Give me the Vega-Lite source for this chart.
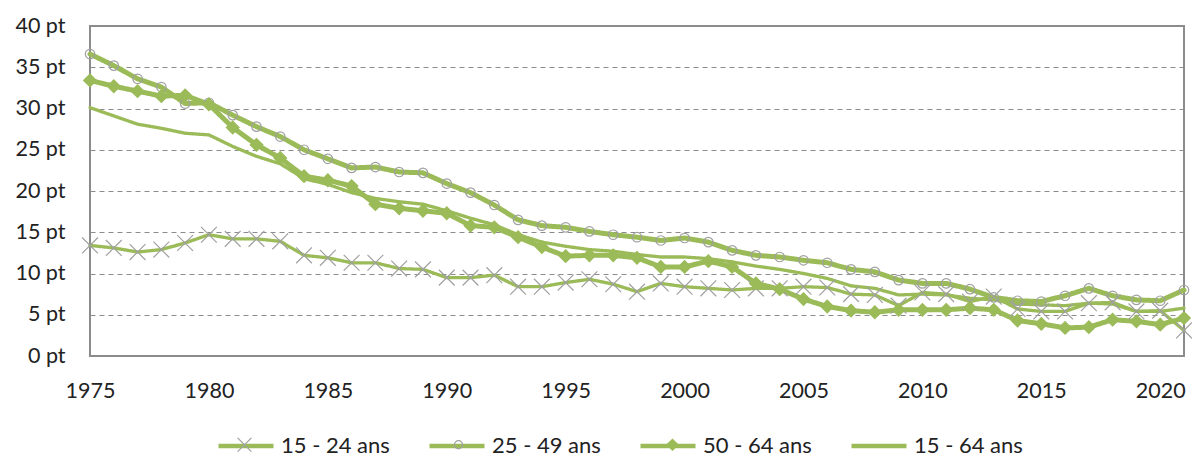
{
  "$schema": "https://vega.github.io/schema/vega-lite/v6.json",
  "width": 1094,
  "height": 330,
  "autosize": {"type": "none"},
  "padding": {"left": 90, "top": 26, "right": 8, "bottom": 104},
  "background": "white",
  "config": {
    "font": "Lato",
    "view": {"stroke": "#8c8c8c", "strokeWidth": 2}
  },
  "data": {
    "values": [
      {"year": 1975, "series": "15 - 24 ans", "v": 13.4}, {"year": 1976, "series": "15 - 24 ans", "v": 13.1}, {"year": 1977, "series": "15 - 24 ans", "v": 12.6}, {"year": 1978, "series": "15 - 24 ans", "v": 12.9}, {"year": 1979, "series": "15 - 24 ans", "v": 13.7}, {"year": 1980, "series": "15 - 24 ans", "v": 14.7}, {"year": 1981, "series": "15 - 24 ans", "v": 14.2}, {"year": 1982, "series": "15 - 24 ans", "v": 14.2}, {"year": 1983, "series": "15 - 24 ans", "v": 13.9}, {"year": 1984, "series": "15 - 24 ans", "v": 12.2}, {"year": 1985, "series": "15 - 24 ans", "v": 11.9}, {"year": 1986, "series": "15 - 24 ans", "v": 11.3}, {"year": 1987, "series": "15 - 24 ans", "v": 11.3}, {"year": 1988, "series": "15 - 24 ans", "v": 10.6}, {"year": 1989, "series": "15 - 24 ans", "v": 10.5}, {"year": 1990, "series": "15 - 24 ans", "v": 9.5}, {"year": 1991, "series": "15 - 24 ans", "v": 9.5}, {"year": 1992, "series": "15 - 24 ans", "v": 9.8}, {"year": 1993, "series": "15 - 24 ans", "v": 8.4}, {"year": 1994, "series": "15 - 24 ans", "v": 8.4}, {"year": 1995, "series": "15 - 24 ans", "v": 8.9}, {"year": 1996, "series": "15 - 24 ans", "v": 9.3}, {"year": 1997, "series": "15 - 24 ans", "v": 8.7}, {"year": 1998, "series": "15 - 24 ans", "v": 7.8}, {"year": 1999, "series": "15 - 24 ans", "v": 8.8}, {"year": 2000, "series": "15 - 24 ans", "v": 8.4}, {"year": 2001, "series": "15 - 24 ans", "v": 8.2}, {"year": 2002, "series": "15 - 24 ans", "v": 8.0}, {"year": 2003, "series": "15 - 24 ans", "v": 8.2}, {"year": 2004, "series": "15 - 24 ans", "v": 8.2}, {"year": 2005, "series": "15 - 24 ans", "v": 8.4}, {"year": 2006, "series": "15 - 24 ans", "v": 8.3}, {"year": 2007, "series": "15 - 24 ans", "v": 7.5}, {"year": 2008, "series": "15 - 24 ans", "v": 7.4}, {"year": 2009, "series": "15 - 24 ans", "v": 6.1}, {"year": 2010, "series": "15 - 24 ans", "v": 7.7}, {"year": 2011, "series": "15 - 24 ans", "v": 7.5}, {"year": 2012, "series": "15 - 24 ans", "v": 6.6}, {"year": 2013, "series": "15 - 24 ans", "v": 7.2}, {"year": 2014, "series": "15 - 24 ans", "v": 5.7}, {"year": 2015, "series": "15 - 24 ans", "v": 5.4}, {"year": 2016, "series": "15 - 24 ans", "v": 5.4}, {"year": 2017, "series": "15 - 24 ans", "v": 6.4}, {"year": 2018, "series": "15 - 24 ans", "v": 6.5}, {"year": 2019, "series": "15 - 24 ans", "v": 5.4}, {"year": 2020, "series": "15 - 24 ans", "v": 5.5}, {"year": 2021, "series": "15 - 24 ans", "v": 3.1},
      {"year": 1975, "series": "25 - 49 ans", "v": 36.6}, {"year": 1976, "series": "25 - 49 ans", "v": 35.2}, {"year": 1977, "series": "25 - 49 ans", "v": 33.6}, {"year": 1978, "series": "25 - 49 ans", "v": 32.6}, {"year": 1979, "series": "25 - 49 ans", "v": 30.6}, {"year": 1980, "series": "25 - 49 ans", "v": 30.7}, {"year": 1981, "series": "25 - 49 ans", "v": 29.2}, {"year": 1982, "series": "25 - 49 ans", "v": 27.8}, {"year": 1983, "series": "25 - 49 ans", "v": 26.6}, {"year": 1984, "series": "25 - 49 ans", "v": 25.0}, {"year": 1985, "series": "25 - 49 ans", "v": 23.9}, {"year": 1986, "series": "25 - 49 ans", "v": 22.8}, {"year": 1987, "series": "25 - 49 ans", "v": 22.9}, {"year": 1988, "series": "25 - 49 ans", "v": 22.3}, {"year": 1989, "series": "25 - 49 ans", "v": 22.2}, {"year": 1990, "series": "25 - 49 ans", "v": 20.9}, {"year": 1991, "series": "25 - 49 ans", "v": 19.8}, {"year": 1992, "series": "25 - 49 ans", "v": 18.3}, {"year": 1993, "series": "25 - 49 ans", "v": 16.5}, {"year": 1994, "series": "25 - 49 ans", "v": 15.8}, {"year": 1995, "series": "25 - 49 ans", "v": 15.6}, {"year": 1996, "series": "25 - 49 ans", "v": 15.1}, {"year": 1997, "series": "25 - 49 ans", "v": 14.7}, {"year": 1998, "series": "25 - 49 ans", "v": 14.4}, {"year": 1999, "series": "25 - 49 ans", "v": 14.0}, {"year": 2000, "series": "25 - 49 ans", "v": 14.3}, {"year": 2001, "series": "25 - 49 ans", "v": 13.8}, {"year": 2002, "series": "25 - 49 ans", "v": 12.8}, {"year": 2003, "series": "25 - 49 ans", "v": 12.2}, {"year": 2004, "series": "25 - 49 ans", "v": 12.0}, {"year": 2005, "series": "25 - 49 ans", "v": 11.6}, {"year": 2006, "series": "25 - 49 ans", "v": 11.3}, {"year": 2007, "series": "25 - 49 ans", "v": 10.5}, {"year": 2008, "series": "25 - 49 ans", "v": 10.2}, {"year": 2009, "series": "25 - 49 ans", "v": 9.2}, {"year": 2010, "series": "25 - 49 ans", "v": 8.8}, {"year": 2011, "series": "25 - 49 ans", "v": 8.8}, {"year": 2012, "series": "25 - 49 ans", "v": 8.1}, {"year": 2013, "series": "25 - 49 ans", "v": 7.1}, {"year": 2014, "series": "25 - 49 ans", "v": 6.7}, {"year": 2015, "series": "25 - 49 ans", "v": 6.6}, {"year": 2016, "series": "25 - 49 ans", "v": 7.3}, {"year": 2017, "series": "25 - 49 ans", "v": 8.2}, {"year": 2018, "series": "25 - 49 ans", "v": 7.3}, {"year": 2019, "series": "25 - 49 ans", "v": 6.8}, {"year": 2020, "series": "25 - 49 ans", "v": 6.7}, {"year": 2021, "series": "25 - 49 ans", "v": 8.0},
      {"year": 1975, "series": "50 - 64 ans", "v": 33.4}, {"year": 1976, "series": "50 - 64 ans", "v": 32.7}, {"year": 1977, "series": "50 - 64 ans", "v": 32.1}, {"year": 1978, "series": "50 - 64 ans", "v": 31.5}, {"year": 1979, "series": "50 - 64 ans", "v": 31.6}, {"year": 1980, "series": "50 - 64 ans", "v": 30.5}, {"year": 1981, "series": "50 - 64 ans", "v": 27.7}, {"year": 1982, "series": "50 - 64 ans", "v": 25.6}, {"year": 1983, "series": "50 - 64 ans", "v": 24.0}, {"year": 1984, "series": "50 - 64 ans", "v": 21.8}, {"year": 1985, "series": "50 - 64 ans", "v": 21.3}, {"year": 1986, "series": "50 - 64 ans", "v": 20.6}, {"year": 1987, "series": "50 - 64 ans", "v": 18.4}, {"year": 1988, "series": "50 - 64 ans", "v": 17.9}, {"year": 1989, "series": "50 - 64 ans", "v": 17.6}, {"year": 1990, "series": "50 - 64 ans", "v": 17.3}, {"year": 1991, "series": "50 - 64 ans", "v": 15.8}, {"year": 1992, "series": "50 - 64 ans", "v": 15.6}, {"year": 1993, "series": "50 - 64 ans", "v": 14.4}, {"year": 1994, "series": "50 - 64 ans", "v": 13.2}, {"year": 1995, "series": "50 - 64 ans", "v": 12.1}, {"year": 1996, "series": "50 - 64 ans", "v": 12.2}, {"year": 1997, "series": "50 - 64 ans", "v": 12.2}, {"year": 1998, "series": "50 - 64 ans", "v": 11.9}, {"year": 1999, "series": "50 - 64 ans", "v": 10.8}, {"year": 2000, "series": "50 - 64 ans", "v": 10.8}, {"year": 2001, "series": "50 - 64 ans", "v": 11.5}, {"year": 2002, "series": "50 - 64 ans", "v": 10.8}, {"year": 2003, "series": "50 - 64 ans", "v": 8.8}, {"year": 2004, "series": "50 - 64 ans", "v": 8.1}, {"year": 2005, "series": "50 - 64 ans", "v": 6.9}, {"year": 2006, "series": "50 - 64 ans", "v": 6.0}, {"year": 2007, "series": "50 - 64 ans", "v": 5.5}, {"year": 2008, "series": "50 - 64 ans", "v": 5.3}, {"year": 2009, "series": "50 - 64 ans", "v": 5.6}, {"year": 2010, "series": "50 - 64 ans", "v": 5.6}, {"year": 2011, "series": "50 - 64 ans", "v": 5.6}, {"year": 2012, "series": "50 - 64 ans", "v": 5.8}, {"year": 2013, "series": "50 - 64 ans", "v": 5.6}, {"year": 2014, "series": "50 - 64 ans", "v": 4.3}, {"year": 2015, "series": "50 - 64 ans", "v": 3.9}, {"year": 2016, "series": "50 - 64 ans", "v": 3.4}, {"year": 2017, "series": "50 - 64 ans", "v": 3.5}, {"year": 2018, "series": "50 - 64 ans", "v": 4.4}, {"year": 2019, "series": "50 - 64 ans", "v": 4.2}, {"year": 2020, "series": "50 - 64 ans", "v": 3.8}, {"year": 2021, "series": "50 - 64 ans", "v": 4.6},
      {"year": 1975, "series": "15 - 64 ans", "v": 30.1}, {"year": 1976, "series": "15 - 64 ans", "v": 29.1}, {"year": 1977, "series": "15 - 64 ans", "v": 28.1}, {"year": 1978, "series": "15 - 64 ans", "v": 27.6}, {"year": 1979, "series": "15 - 64 ans", "v": 27.0}, {"year": 1980, "series": "15 - 64 ans", "v": 26.8}, {"year": 1981, "series": "15 - 64 ans", "v": 25.4}, {"year": 1982, "series": "15 - 64 ans", "v": 24.2}, {"year": 1983, "series": "15 - 64 ans", "v": 23.3}, {"year": 1984, "series": "15 - 64 ans", "v": 21.5}, {"year": 1985, "series": "15 - 64 ans", "v": 20.8}, {"year": 1986, "series": "15 - 64 ans", "v": 19.8}, {"year": 1987, "series": "15 - 64 ans", "v": 19.1}, {"year": 1988, "series": "15 - 64 ans", "v": 18.7}, {"year": 1989, "series": "15 - 64 ans", "v": 18.4}, {"year": 1990, "series": "15 - 64 ans", "v": 17.6}, {"year": 1991, "series": "15 - 64 ans", "v": 16.7}, {"year": 1992, "series": "15 - 64 ans", "v": 15.9}, {"year": 1993, "series": "15 - 64 ans", "v": 14.7}, {"year": 1994, "series": "15 - 64 ans", "v": 13.8}, {"year": 1995, "series": "15 - 64 ans", "v": 13.3}, {"year": 1996, "series": "15 - 64 ans", "v": 12.9}, {"year": 1997, "series": "15 - 64 ans", "v": 12.7}, {"year": 1998, "series": "15 - 64 ans", "v": 12.3}, {"year": 1999, "series": "15 - 64 ans", "v": 12.0}, {"year": 2000, "series": "15 - 64 ans", "v": 12.0}, {"year": 2001, "series": "15 - 64 ans", "v": 11.8}, {"year": 2002, "series": "15 - 64 ans", "v": 11.4}, {"year": 2003, "series": "15 - 64 ans", "v": 10.9}, {"year": 2004, "series": "15 - 64 ans", "v": 10.5}, {"year": 2005, "series": "15 - 64 ans", "v": 10.0}, {"year": 2006, "series": "15 - 64 ans", "v": 9.4}, {"year": 2007, "series": "15 - 64 ans", "v": 8.5}, {"year": 2008, "series": "15 - 64 ans", "v": 8.2}, {"year": 2009, "series": "15 - 64 ans", "v": 7.4}, {"year": 2010, "series": "15 - 64 ans", "v": 7.5}, {"year": 2011, "series": "15 - 64 ans", "v": 7.4}, {"year": 2012, "series": "15 - 64 ans", "v": 7.0}, {"year": 2013, "series": "15 - 64 ans", "v": 6.8}, {"year": 2014, "series": "15 - 64 ans", "v": 6.3}, {"year": 2015, "series": "15 - 64 ans", "v": 6.2}, {"year": 2016, "series": "15 - 64 ans", "v": 6.1}, {"year": 2017, "series": "15 - 64 ans", "v": 6.4}, {"year": 2018, "series": "15 - 64 ans", "v": 6.3}, {"year": 2019, "series": "15 - 64 ans", "v": 5.4}, {"year": 2020, "series": "15 - 64 ans", "v": 5.4}, {"year": 2021, "series": "15 - 64 ans", "v": 5.8}
    ]
  },
  "encoding": {
    "x": {
      "field": "year", "type": "quantitative",
      "scale": {"domain": [1975, 2021], "nice": false, "zero": false},
      "axis": {
        "title": null, "values": [1975, 1980, 1985, 1990, 1995, 2000, 2005, 2010, 2015, 2020],
        "format": "d", "grid": false, "ticks": false, "tickSize": 0, "domain": false,
        "labelFontSize": 21.5, "labelColor": "#222222", "labelPadding": 24, "labelFlush": false, "labelOverlap": false
      }
    },
    "y": {
      "field": "v", "type": "quantitative",
      "scale": {"domain": [0, 40], "nice": false},
      "axis": {
        "title": null, "values": [0, 5, 10, 15, 20, 25, 30, 35, 40],
        "labelExpr": "datum.value + ' pt'",
        "grid": true, "gridDash": [5, 4], "gridColor": "#8c8c8c", "gridWidth": 1,
        "ticks": false, "tickSize": 0, "domain": false,
        "labelFontSize": 21.5, "labelColor": "#222222", "labelPadding": 25, "labelFlush": false, "labelOverlap": false
      }
    }
  },
  "layer": [
    {
      "mark": {"type": "line", "color": "#9BBB59", "strokeJoin": "round", "strokeCap": "round"},
      "encoding": {
        "strokeDash": {
          "field": "series", "type": "nominal",
          "sort": ["15 - 24 ans", "25 - 49 ans", "50 - 64 ans", "15 - 64 ans"],
          "scale": {"range": [[1, 0], [1, 0], [1, 0], [1, 0]]},
          "legend": {
            "title": null, "orient": "none", "direction": "horizontal",
            "legendX": 126, "legendY": 390, "zindex": 1,
            "symbolSize": 3025, "symbolType": "stroke", "symbolStrokeColor": "#9BBB59", "symbolStrokeWidth": 4.5,
            "labelFontSize": 22, "labelColor": "#222222", "labelOffset": 5,
            "columnPadding": 30, "padding": 0
          }
        },
        "strokeWidth": {
          "condition": {"test": "datum.series === '25 - 49 ans' || datum.series === '50 - 64 ans'", "value": 5},
          "value": 3.3
        }
      }
    },
    {
      "mark": {"type": "point", "opacity": 1, "strokeWidth": 1.2, "size": 4000},
      "encoding": {
        "shape": {
          "field": "series", "type": "nominal",
          "scale": {
            "domain": ["15 - 24 ans", "25 - 49 ans", "50 - 64 ans", "15 - 64 ans"],
            "range": ["M-0.25,-0.25L0.25,0.25M-0.25,0.25L0.25,-0.25", "M0.15,0A0.15,0.15 0 1,1 -0.15,0A0.15,0.15 0 1,1 0.15,0", "M-0.2,0L0,-0.2L0.2,0L0,0.2Z", "M0,0"]
          },
          "legend": {
            "title": null, "orient": "none", "direction": "horizontal",
            "legendX": 126, "legendY": 390, "zindex": 2,
            "symbolSize": 3025, "symbolStrokeWidth": 1.2, "symbolOpacity": 1,
            "labelExpr": "''", "labelFontSize": 22, "labelOffset": 0,
            "columnPadding": 157, "padding": 0
          }
        },
        "stroke": {
          "field": "series", "type": "nominal",
          "scale": {
            "domain": ["15 - 24 ans", "25 - 49 ans", "50 - 64 ans", "15 - 64 ans"],
            "range": ["#a0a0a0", "#a0a0a0", "#9BBB59", "#a0a0a0"]
          }
        },
        "fill": {
          "field": "series", "type": "nominal",
          "scale": {
            "domain": ["15 - 24 ans", "25 - 49 ans", "50 - 64 ans", "15 - 64 ans"],
            "range": ["transparent", "transparent", "#9BBB59", "transparent"]
          }
        }
      }
    }
  ]
}
